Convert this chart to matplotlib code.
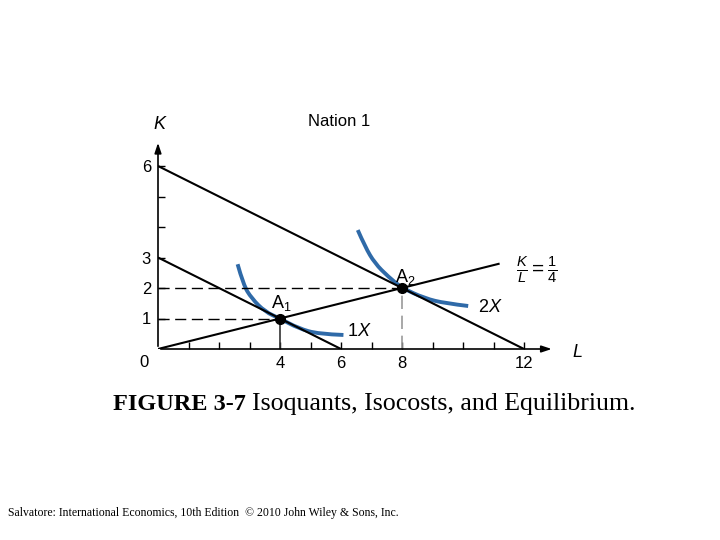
import numpy as np
import matplotlib.pyplot as plt
from matplotlib.path import Path
from matplotlib.patches import PathPatch

plt.rcParams['font.family'] = ['Liberation Sans', 'DejaVu Sans']
plt.rcParams['mathtext.fontset'] = 'custom'
plt.rcParams['mathtext.rm'] = 'Liberation Sans'
plt.rcParams['mathtext.it'] = 'Liberation Sans:italic'

# isocost lines (L intercept, K intercept)
isocost_1 = [(0, 3), (6, 0)]
isocost_2 = [(0, 6), (12, 0)]

# K/L = 1/4 ray
ray = [(0, 0), (11.2, 2.8)]

# equilibrium points
eq_L = [4, 8]
eq_K = [1, 2]
eq_names = ["$\\mathregular{A_1}$", "$\\mathregular{A_2}$"]

# isoquants
iso1_L = [2.61, 2.80, 3.07, 3.51, 4.00, 4.60, 5.26, 6.08]
iso1_K = [2.78, 2.10, 1.66, 1.22, 1.00, 0.68, 0.49, 0.46]
iso2_L = [6.55, 6.79, 7.11, 7.55, 8.00, 8.75, 9.41, 10.17]
iso2_K = [3.90, 3.35, 2.81, 2.37, 2.00, 1.66, 1.50, 1.41]

x_ticks = list(range(1, 13))
x_ticklabels = ["", "", "", "4", "", "6", "", "8", "", "", "", "12"]
y_ticks = list(range(1, 7))
y_ticklabels = ["1", "2", "3", "", "", "6"]

blue = "#2f6aa8"


def smooth_curve(ax, xs, ys, **kw):
    # quadratic bezier through midpoints, drawn by matplotlib
    pts = list(zip(xs, ys))
    verts = [pts[0]]
    codes = [Path.MOVETO]
    for i in range(1, len(pts) - 1):
        mid = ((pts[i][0] + pts[i + 1][0]) / 2, (pts[i][1] + pts[i + 1][1]) / 2)
        if i == len(pts) - 2:
            mid = pts[-1]
        verts += [pts[i], mid]
        codes += [Path.CURVE3, Path.CURVE3]
    ax.add_patch(PathPatch(Path(verts, codes), fill=False, **kw))


fig = plt.figure(figsize=(7.2, 5.4), dpi=100)
unit = 30.5
ax = fig.add_axes([158 / 720, 191 / 540, 13.5 * unit / 720, 7 * unit / 540])
ax.set_xlim(0, 13.5)
ax.set_ylim(0, 7)
for s in ax.spines.values():
    s.set_visible(False)

# axes with arrows
ax.annotate("", xy=(13.0, 0), xytext=(0, 0),
            arrowprops=dict(arrowstyle="-|>,head_length=0.6,head_width=0.2", lw=1.2, color="black"),
            annotation_clip=False)
ax.annotate("", xy=(0, 6.85), xytext=(0, 0),
            arrowprops=dict(arrowstyle="-|>,head_length=0.6,head_width=0.2", lw=1.2, color="black"),
            annotation_clip=False)

ax.set_xticks(x_ticks)
ax.set_xticklabels(x_ticklabels)
ax.set_yticks(y_ticks)
ax.set_yticklabels(y_ticklabels)
ax.tick_params(direction="in", length=5, width=1, labelsize=12, pad=5)

# dashed guides
ax.plot([0, eq_L[0]], [eq_K[0], eq_K[0]], color="black", lw=1, ls=(0, (8, 4)))
ax.plot([0, eq_L[1]], [eq_K[1], eq_K[1]], color="black", lw=1, ls=(0, (8, 4)))
ax.plot([eq_L[0], eq_L[0]], [0, eq_K[0]], color="#333333", lw=1.2)
ax.plot([eq_L[1], eq_L[1]], [0, eq_K[1]], color="#999999", lw=1.2, ls=(0, (8, 4)))

# isocosts and ray
for ln in (isocost_1, isocost_2, ray):
    ax.plot([ln[0][0], ln[1][0]], [ln[0][1], ln[1][1]], color="black", lw=1.5, solid_capstyle="butt")

# isoquants
smooth_curve(ax, iso1_L, iso1_K, color=blue, lw=2.8, capstyle="butt")
smooth_curve(ax, iso2_L, iso2_K, color=blue, lw=2.8, capstyle="butt")

ax.plot(eq_L, eq_K, "o", color="black", ms=7, zorder=5)
ax.text(4.05, 1.5, eq_names[0], ha="center", va="center", fontsize=13)
ax.text(8.1, 2.35, eq_names[1], ha="center", va="center", fontsize=13)
ax.text(6.2, 0.57, "1$X$", ha="left", va="center", fontsize=13)
ax.text(10.5, 1.37, "2$X$", ha="left", va="center", fontsize=13)
ax.text(11.75, 2.6, r"$\frac{K}{L} = \frac{1}{4}$", ha="left", va="center", fontsize=15)

ax.text(-0.45, -0.45, "0", ha="center", va="center", fontsize=12)
ax.text(0.08, 7.35, "$K$", ha="center", va="center", fontsize=13)
ax.text(13.75, -0.1, "$L$", ha="center", va="center", fontsize=13)
ax.text(5.93, 7.45, "Nation 1", ha="center", va="center", fontsize=12)

cap_y = 1 - 404 / 540
t1 = fig.text(113 / 720, cap_y, "FIGURE 3-7 ", family="Liberation Serif",
              weight="bold", fontsize=17.5, va="center", ha="left")
fig.canvas.draw()
bb = t1.get_window_extent()
fig.text(bb.x1 / 720, cap_y, "Isoquants, Isocosts, and Equilibrium.",
         family="Liberation Serif", fontsize=18.6, va="center", ha="left")
fig.text(8 / 720, 1 - 513 / 540,
         "Salvatore: International Economics, 10th Edition  \u00a9 2010 John Wiley & Sons, Inc.",
         family="Liberation Serif", fontsize=8.5, va="center", ha="left")

fig.savefig("out.png", dpi=100)
